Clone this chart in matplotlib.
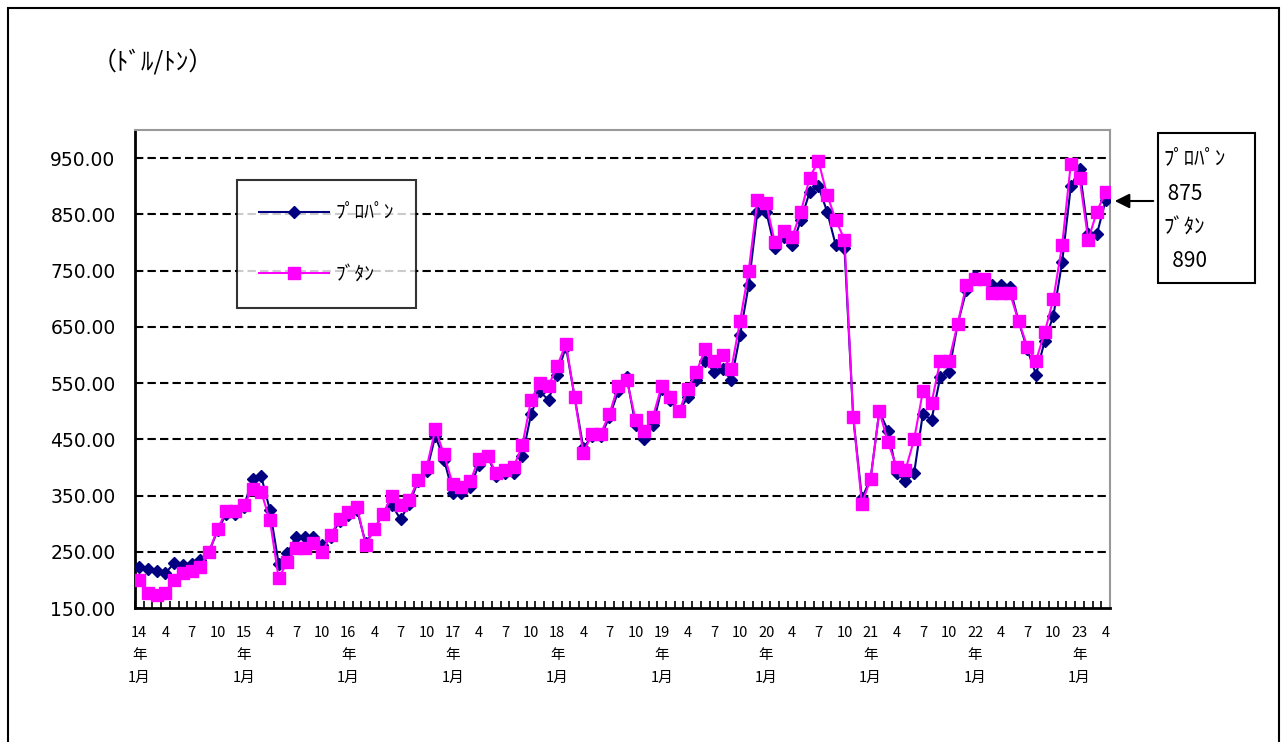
import matplotlib
matplotlib.use("Agg")
import matplotlib.pyplot as plt
from matplotlib.patches import Rectangle
from matplotlib.ticker import FixedLocator, FuncFormatter
import numpy as np

plt.rcParams['font.family'] = ['Noto Sans CJK JP', 'DejaVu Sans']

# ---- data (US$/t), monthly from H14 (2002) Jan to H23 (2011) Apr ----
start_year = 14
propane = [
    223, 219, 215, 212, 230, 226, 228, 235, 250, 288, 318, 318,   # H14
    330, 380, 384, 324, 229, 247, 277, 277, 277, 262, 277, 305,   # H15
    315, 325, 265, 290, 318, 333, 308, 335, 375, 393, 456, 414,   # H16
    355, 355, 365, 405, 420, 385, 390, 390, 420, 495, 535, 520,   # H17
    565, 615, 525, 435, 455, 455, 490, 535, 560, 475, 450, 475,   # H18
    540, 520, 500, 525, 555, 590, 570, 575, 555, 635, 725, 855,   # H19
    855, 790, 810, 795, 840, 890, 900, 855, 795, 790, 490, 345,   # H20
    380, 500, 465, 390, 375, 390, 495, 485, 560, 570, 655, 715,   # H21
    740, 735, 725, 725, 720, 660, 610, 565, 625, 670, 765, 900,   # H22
    930, 815, 815, 875,                                           # H23
]
butane = [
    200, 176, 173, 176, 200, 213, 215, 223, 250, 291, 323, 323,
    333, 362, 356, 306, 203, 232, 256, 256, 265, 250, 280, 309,
    320, 330, 262, 291, 318, 349, 333, 342, 377, 400, 468, 423,
    370, 365, 375, 415, 420, 390, 395, 400, 440, 520, 550, 545,
    580, 620, 525, 425, 460, 460, 495, 545, 555, 485, 465, 490,
    545, 525, 500, 540, 570, 610, 590, 600, 575, 660, 750, 875,
    870, 800, 820, 810, 855, 915, 945, 885, 840, 805, 490, 335,
    380, 500, 445, 400, 395, 450, 535, 515, 590, 590, 655, 725,
    735, 735, 710, 710, 710, 660, 615, 590, 640, 700, 795, 940,
    915, 805, 855, 890,
]
series_names = ['ﾌﾟﾛﾊﾟﾝ', 'ﾌﾞﾀﾝ']
latest_propane = 875
latest_butane = 890
unit_label = '（ﾄﾞﾙ/ﾄﾝ）'
label_months = [1, 4, 7, 10]
y_ticks = [150, 250, 350, 450, 550, 650, 750, 850, 950]

n = len(propane)
x = np.arange(n)

W, H = 1283, 742
fig = plt.figure(figsize=(W / 100, H / 100), dpi=100)

# outer chart frame
fig.patches.append(Rectangle((8 / W, -0.01), (1279 - 8) / W, 1 - 8 / H + 0.01,
                             transform=fig.transFigure, fill=False,
                             edgecolor='black', linewidth=1.5))

ax = fig.add_axes([135 / W, 1 - 608 / H, (1110 - 135) / W, (608 - 130) / H])

ax.plot(x, propane, color='#000080', marker='D', markersize=6, linewidth=1.5,
        label=series_names[0], zorder=3)
ax.plot(x, butane, color='#FF00FF', marker='s', markersize=8, linewidth=1.5,
        label=series_names[1], zorder=4)

ax.set_xlim(-0.5, n - 0.5)
ax.set_ylim(150, 1000)

# y axis
ax.set_yticks(y_ticks)
ax.yaxis.set_major_formatter(FuncFormatter(lambda v, p: f'{v:.2f}'))
ax.tick_params(axis='y', direction='in', length=4, width=1.2, pad=14)
for lab in ax.get_yticklabels():
    lab.set_fontfamily('DejaVu Sans')
    lab.set_fontsize(13.5)
for yv in y_ticks[1:]:
    ax.axhline(yv, color='black', linestyle=(0, (4, 2)), linewidth=1.5, zorder=1)

# x axis
major = []
labels = []
for i in range(n):
    m = i % 12 + 1
    yr = start_year + i // 12
    if m in label_months:
        major.append(i)
        labels.append(f'{yr}\n年\n1月' if m == 1 else str(m))
ax.set_xticks(major)
ax.set_xticklabels(labels, fontsize=10.5, linespacing=1.75, va='top')
ax.tick_params(axis='x', which='major', length=0, pad=13)
ax.xaxis.set_minor_locator(FixedLocator(np.arange(-0.5, n, 1.0)))
ax.tick_params(axis='x', which='minor', direction='in', length=5, width=1.2)

for side in ['left', 'bottom']:
    ax.spines[side].set_linewidth(2)
    ax.spines[side].set_color('black')
for side in ['top', 'right']:
    ax.spines[side].set_linewidth(1.5)
    ax.spines[side].set_color('#999999')

# legend
leg = ax.legend(loc='upper left', bbox_to_anchor=((237 - 135) / 975, 1 - (180 - 130) / 478),
                frameon=True, fancybox=False, edgecolor='black', fontsize=14,
                borderpad=1.15, labelspacing=2.1, handlelength=3.6, handletextpad=0.3,
                borderaxespad=0, markerscale=1.1)
leg.get_frame().set_linewidth(1.5)

# unit label
fig.text(92 / W, 1 - 62 / H, unit_label, fontsize=18, ha='left', va='center')

# annotation box with latest values
box_l, box_t, box_r, box_b = 1158, 133, 1255, 283
fig.patches.append(Rectangle((box_l / W, 1 - box_b / H), (box_r - box_l) / W,
                             (box_b - box_t) / H, transform=fig.transFigure,
                             fill=False, edgecolor='black', linewidth=1.5))
txt_lines = [series_names[0], f' {latest_propane}', series_names[1], f'  {latest_butane}']
ys = [158, 194, 228, 261]
for t, yy in zip(txt_lines, ys):
    fig.text(1163 / W, 1 - yy / H, t, fontsize=15, ha='left', va='center')

ax.annotate('', xy=(1112 / W, 1 - 201 / H), xycoords='figure fraction',
            xytext=(1156 / W, 1 - 201 / H), textcoords='figure fraction',
            arrowprops=dict(arrowstyle='-|>', color='black', lw=1.5,
                            mutation_scale=22))

fig.savefig('out.png', dpi=100)
